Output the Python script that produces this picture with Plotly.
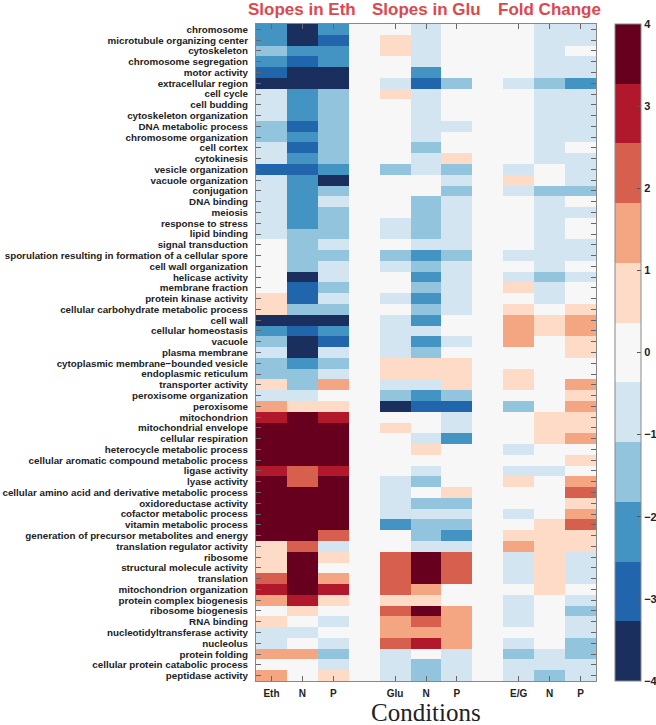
import plotly.graph_objects as go

# Row labels (GO terms), top to bottom
terms = [
    "chromosome", "microtubule organizing center", "cytoskeleton", "chromosome segregation",
    "motor activity", "extracellular region", "cell cycle", "cell budding",
    "cytoskeleton organization", "DNA metabolic process", "chromosome organization", "cell cortex",
    "cytokinesis", "vesicle organization", "vacuole organization", "conjugation",
    "DNA binding", "meiosis", "response to stress", "lipid binding",
    "signal transduction", "sporulation resulting in formation of a cellular spore",
    "cell wall organization", "helicase activity", "membrane fraction", "protein kinase activity",
    "cellular carbohydrate metabolic process", "cell wall", "cellular homeostasis", "vacuole",
    "plasma membrane", "cytoplasmic membrane\u2212bounded vesicle", "endoplasmic reticulum",
    "transporter activity", "peroxisome organization", "peroxisome", "mitochondrion",
    "mitochondrial envelope", "cellular respiration", "heterocycle metabolic process",
    "cellular aromatic compound metabolic process", "ligase activity", "lyase activity",
    "cellular amino acid and derivative metabolic process", "oxidoreductase activity",
    "cofactor metabolic process", "vitamin metabolic process",
    "generation of precursor metabolites and energy", "translation regulator activity",
    "ribosome", "structural molecule activity", "translation", "mitochondrion organization",
    "protein complex biogenesis", "ribosome biogenesis", "RNA binding",
    "nucleotidyltransferase activity", "nucleolus", "protein folding",
    "cellular protein catabolic process", "peptidase activity",
]

# Column tick labels
col_labels = ["Eth", "N", "P", "Glu", "N", "P", "E/G", "N", "P"]
group_titles = ["Slopes in Eth", "Slopes in Glu", "Fold Change"]

# Slopes in Eth
eth_eth = [-2.2, -2.2, -1.5, -2.2, -2.9, -3.6, -0.7, -0.7, -0.7, -1.5, -1.5, -0.7, -0.7, -2.9, -0.7,
           -0.7, -0.7, -0.7, -0.7, -0.7, 0.0, 0.0, 0.0, 0.0, 0.0, 0.7, 0.7, -3.6, -2.2, -1.5,
           -0.7, -1.5, -1.5, 0.7, -0.7, 1.5, 2.9, 3.6, 3.6, 3.6, 3.6, 2.9, 3.6, 3.6, 3.6,
           3.6, 3.6, 3.6, 0.7, 0.7, 0.7, 2.2, 2.9, 1.5, 0.0, 0.7, -0.7, -0.7, 1.5, 0.0, 1.5]
eth_n = [-3.6, -3.6, -2.2, -2.9, -3.6, -3.6, -2.2, -2.2, -2.2, -2.9, -2.2, -2.9, -2.2, -2.9, -2.2,
         -2.2, -2.2, -2.2, -2.2, -1.5, -1.5, -1.5, -1.5, -3.6, -2.9, -2.9, -1.5, -3.6, -2.9, -3.6,
         -3.6, -2.2, -1.5, -1.5, -0.7, 0.7, 3.6, 3.6, 3.6, 3.6, 3.6, 2.2, 2.2, 3.6, 3.6,
         3.6, 3.6, 3.6, 2.2, 3.6, 3.6, 3.6, 3.6, 2.9, 0.7, 0.0, -0.7, 0.0, 1.5, 0.0, 0.0]
eth_p = [-2.2, -2.9, -2.2, -2.2, -3.6, -3.6, -1.5, -1.5, -1.5, -1.5, -1.5, -1.5, -1.5, -2.2, -3.6,
         -1.5, -0.7, -1.5, -1.5, -1.5, -0.7, -1.5, -0.7, -0.7, -1.5, -0.7, -1.5, -3.6, -2.2, -2.9,
         -0.7, -1.5, -0.7, 1.5, 0.0, 0.7, 2.9, 3.6, 3.6, 3.6, 3.6, 2.9, 3.6, 3.6, 3.6,
         3.6, 3.6, 2.2, -0.7, 0.7, 0.0, 1.5, 2.9, 0.7, 0.0, -0.7, 0.0, -0.7, -1.5, -0.7, 0.7]

# Slopes in Glu
glu_glu = [0.0, 0.7, 0.7, 0.0, 0.0, -0.7, 0.7, 0.0, 0.0, 0.0, 0.0, 0.0, 0.0, -1.5, 0.0,
           0.0, 0.0, 0.0, -0.7, -0.7, 0.0, -1.5, -0.7, 0.0, 0.0, -0.7, 0.0, -0.7, -0.7, -0.7,
           -0.7, 0.7, 0.7, -0.7, -1.5, -3.6, 0.0, 0.7, 0.0, 0.0, 0.0, 0.0, -0.7, -0.7, -0.7,
           -0.7, -2.2, 0.0, 0.0, 2.2, 2.2, 2.2, 2.2, 0.7, 2.2, 1.5, 1.5, 2.2, -0.7, -0.7, -0.7]
glu_n = [-0.7, -0.7, -0.7, -0.7, -2.2, -2.9, -0.7, -0.7, -0.7, -0.7, -0.7, -1.5, -0.7, -0.7, 0.0,
         0.0, -1.5, -1.5, -1.5, -1.5, -0.7, -2.2, -1.5, -2.2, -1.5, -2.2, -1.5, -2.2, -0.7, -2.2,
         -1.5, 0.7, 0.7, -0.7, -2.2, -2.9, 0.0, 0.0, -0.7, 0.7, 0.0, -0.7, -1.5, 0.0, -1.5,
         -0.7, -1.5, -1.5, -0.7, 3.6, 3.6, 3.6, 1.5, 0.7, 3.6, 2.2, 1.5, 2.9, 0.0, -1.5, -1.5]
glu_p = [0.0, 0.0, 0.0, 0.0, 0.0, -1.5, 0.0, 0.0, 0.0, -0.7, 0.0, 0.0, 0.7, -1.5, -0.7,
         -1.5, -0.7, -0.7, -0.7, -0.7, -0.7, -1.5, -0.7, -0.7, -0.7, -0.7, -0.7, 0.0, 0.0, -0.7,
         0.0, 0.7, 0.7, 0.7, -1.5, -2.9, -0.7, -0.7, -2.2, 0.0, 0.0, 0.0, 0.0, 0.7, -1.5,
         -0.7, -1.5, -2.2, -0.7, 2.2, 2.2, 2.2, 0.0, 0.0, 1.5, 1.5, 1.5, 1.5, -0.7, -0.7, -0.7]

# Fold Change
fc_eg = [0.0, 0.0, 0.0, 0.0, 0.0, -0.7, 0.0, 0.0, 0.0, 0.0, 0.0, 0.0, 0.0, -0.7, 0.7,
         -0.7, 0.0, 0.0, 0.0, 0.0, 0.0, -0.7, 0.0, -0.7, 0.7, 0.0, 0.7, 1.5, 1.5, 1.5,
         0.0, 0.0, 0.7, 0.7, 0.0, -1.5, 0.0, 0.0, 0.0, -0.7, 0.0, -0.7, 0.7, 0.0, 0.0,
         -0.7, 0.0, 0.7, 1.5, -0.7, -0.7, -0.7, 0.0, -0.7, -0.7, -0.7, 0.0, -0.7, -1.5, -0.7, -0.7]
fc_n = [-0.7, -0.7, -0.7, -0.7, -0.7, -1.5, -0.7, -0.7, -0.7, -0.7, -0.7, -0.7, -0.7, 0.0, 0.0,
        -1.5, -0.7, -0.7, -0.7, -0.7, -0.7, -0.7, -0.7, -1.5, -0.7, -0.7, 0.0, 0.7, 0.7, 0.0,
        0.0, 0.0, 0.0, 0.0, 0.0, 0.0, 0.7, 0.7, 0.7, 0.0, 0.0, -0.7, 0.0, 0.0, 0.0,
        0.0, 0.7, 0.7, 0.7, 0.7, 0.7, 0.7, 0.7, 0.0, 0.0, 0.0, 0.0, 0.0, -0.7, -0.7, -1.5]
fc_p = [-0.7, -0.7, 0.0, -0.7, -0.7, -2.2, -0.7, -0.7, -0.7, -0.7, -0.7, 0.0, -0.7, -0.7, -0.7,
        -1.5, 0.0, -0.7, 0.0, 0.0, -0.7, -0.7, 0.0, -0.7, 0.0, 0.0, 0.7, 1.5, 1.5, 0.7,
        0.7, 0.0, 0.0, 1.5, 0.7, 1.5, 0.7, 0.7, 1.5, 0.0, 0.7, 0.0, 1.5, 2.2, 0.7,
        1.5, 2.2, 0.7, 0.7, -0.7, -0.7, -0.7, 0.0, -0.7, -1.5, -0.7, -0.7, -1.5, -1.5, -0.7, -0.7]

# 11-class diverging palette from -4 to 4
palette = ["#1b2f5e", "#2165ac", "#4393c3", "#93c4de", "#d2e5f0", "#f7f7f7",
           "#fddbc7", "#f4a582", "#d6604d", "#b2182b", "#67001f"]
n = len(palette)
colorscale = []
for i, c in enumerate(palette):
    colorscale.append([i / n, c])
    colorscale.append([(i + 1) / n, c])

# Build matrix with blank spacer columns between groups
columns = [eth_eth, eth_n, eth_p, None, glu_glu, glu_n, glu_p, None, fc_eg, fc_n, fc_p]
z = []
for r in range(len(terms)):
    z.append([col[r] if col is not None else None for col in columns])

x_pos = list(range(len(columns)))
tick_pos = [i for i, c in enumerate(columns) if c is not None]

fig = go.Figure(go.Heatmap(
    z=z, x=x_pos, y=list(range(len(terms))),
    zmin=-4, zmax=4, colorscale=colorscale,
    colorbar=dict(
        x=1.056, xanchor="left", xpad=0, y=0.5, yanchor="middle", ypad=0,
        len=1, lenmode="fraction", thickness=26,
        tickvals=[-4, -3, -2, -1, 0, 1, 2, 3, 4],
        ticks="inside", ticklen=4, tickcolor="#555",
        outlinecolor="#888", outlinewidth=1,
        tickfont=dict(family="Liberation Sans", size=11, color="#222", weight="bold"),
    ),
    hoverongaps=False,
))

axis_common = dict(
    ticks="inside", ticklen=5, tickcolor="#666", showline=True, linecolor="#888",
    linewidth=1, mirror="allticks", showgrid=False, zeroline=False, automargin=False,
)
fig.update_xaxes(
    range=[-0.5, len(columns) - 0.5], tickvals=tick_pos, ticktext=col_labels,
    tickfont=dict(family="Liberation Sans", size=10, color="#222", weight="bold"),
    ticklabelstandoff=3, **axis_common,
)
fig.update_yaxes(
    range=[len(terms) - 0.5, -0.5], tickvals=list(range(len(terms))), ticktext=terms,
    tickfont=dict(family="Liberation Sans", size=9.8, color="#222", weight="bold"),
    ticklabelstandoff=5, **axis_common,
)

annotations = []
for title, center in zip(group_titles, [1, 5, 9]):
    annotations.append(dict(
        x=center, xref="x", y=1.022, yref="paper", text=title, showarrow=False,
        xanchor="center", yanchor="middle",
        font=dict(family="Liberation Sans", size=17, color="#e0474c", weight="bold"),
    ))
annotations.append(dict(
    x=0.5, xref="paper", y=-0.048, yref="paper", text="Conditions", showarrow=False,
    xanchor="center", yanchor="middle",
    font=dict(family="Liberation Serif", size=25, color="#222"),
))

fig.update_layout(
    width=656, height=725,
    margin=dict(l=256, r=60, t=24, b=44, autoexpand=False),
    paper_bgcolor="white", plot_bgcolor="#f7f7f7",
    annotations=annotations,
)

# Remove the page's default body margin so the figure fills the window exactly
fig.write_html(
    "out.html",
    config={"displayModeBar": False},
    post_script="document.body.style.margin='0px';",
)
